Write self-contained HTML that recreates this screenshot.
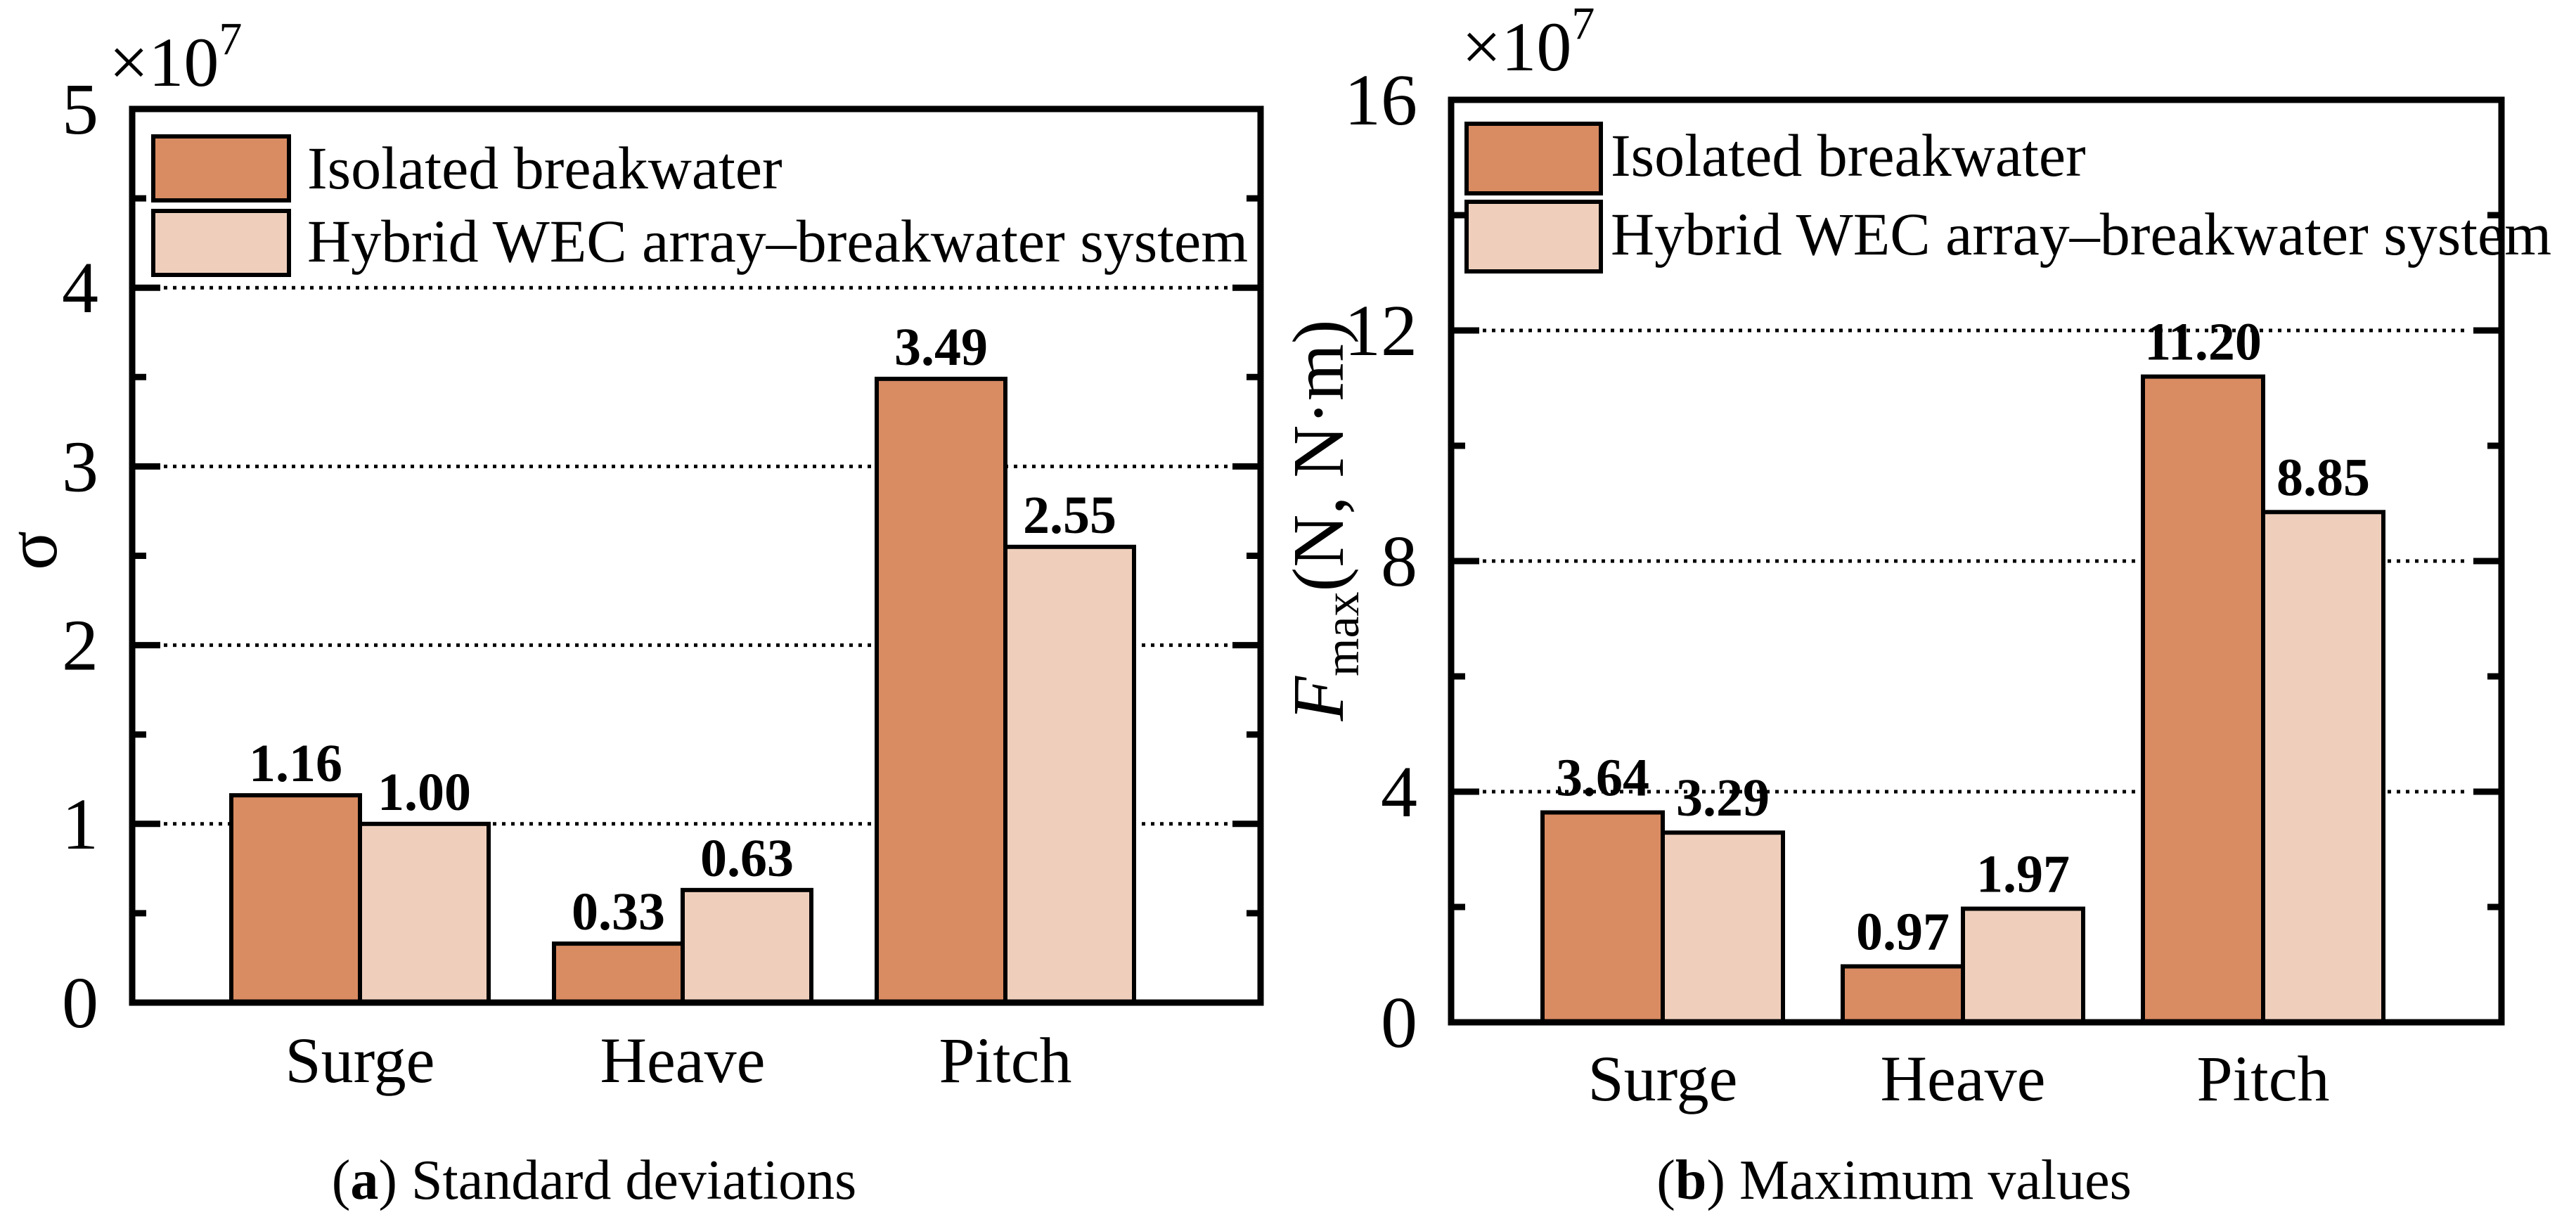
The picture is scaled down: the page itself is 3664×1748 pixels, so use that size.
<!DOCTYPE html>
<html><head><meta charset="utf-8"><style>
html,body{margin:0;padding:0;background:#fff;}
svg{display:block;font-family:"Liberation Serif","Times New Roman",serif;}
</style></head><body>
<svg id="fig" width="3664" height="1748" viewBox="0 0 3664 1748" xmlns="http://www.w3.org/2000/svg"></svg>
<script>
const categories = ["Surge", "Heave", "Pitch"];
const seriesNames = ["Isolated breakwater", "Hybrid WEC array\u2013breakwater system"];
const stdIsolated = [1.16, 0.33, 3.49];
const stdHybrid = [1.00, 0.63, 2.55];
const stdLabelsIso = ["1.16", "0.33", "3.49"];
const stdLabelsHyb = ["1.00", "0.63", "2.55"];
const stdTicks = [0, 1, 2, 3, 4, 5];
const maxIsolated = [3.64, 0.97, 11.20];
const maxHybrid = [3.29, 1.97, 8.85];
const maxLabelsIso = ["3.64", "0.97", "11.20"];
const maxLabelsHyb = ["3.29", "1.97", "8.85"];
const maxTicks = [0, 4, 8, 12, 16];

const NS = "http://www.w3.org/2000/svg";
const svg = document.getElementById("fig");
const COL1 = "#D98B62", COL2 = "#EFCFBC";
function mk(tag, attrs, parent, text) {
  const e = document.createElementNS(NS, tag);
  for (const k in attrs) e.setAttribute(k, attrs[k]);
  if (text !== undefined) e.textContent = text;
  (parent || svg).appendChild(e);
  return e;
}

function panel(cfg) {
  const g = mk("g", {});
  
  
  const L = cfg.left, R = cfg.right, T = cfg.top, B = cfg.bottom;
  const y = v => B - (v - cfg.ymin) / (cfg.ymax - cfg.ymin) * (B - T);
  const x = i => cfg.c0 + i * cfg.spacing;
  cfg.ticks.forEach(t => {
    if (t === cfg.ymin || t === cfg.ymax) return;
    const gl = mk("line", {x1: L + 45, x2: R - 45, y1: y(t), y2: y(t), stroke: "#000", "stroke-width": 5, "stroke-dasharray": "5 8"}, g);
    
    
  });
  const bw = cfg.bw;
  categories.forEach((c, i) => {
    const v1 = cfg.s1[i], v2 = cfg.s2[i];
    const b1 = mk("rect", {x: x(i) - bw, y: y(v1), width: bw, height: B - y(v1), fill: COL1, stroke: "#000", "stroke-width": 6}, g);
    
    
    const b2 = mk("rect", {x: x(i), y: y(v2), width: bw, height: B - y(v2), fill: COL2, stroke: "#000", "stroke-width": 6}, g);
    
    
    const t1 = mk("text", {x: x(i) - bw / 2, y: y(v1) - cfg.lblGap, "text-anchor": "middle", "font-size": 76, "font-weight": "bold"}, g, cfg.l1[i]);
    
    
    const t2 = mk("text", {x: x(i) + bw / 2, y: y(v2) - cfg.lblGap, "text-anchor": "middle", "font-size": 76, "font-weight": "bold"}, g, cfg.l2[i]);
    
    
    const cl = mk("text", {x: x(i), y: cfg.catY, "text-anchor": "middle", "font-size": 92}, g, c);
    
    
  });
  cfg.ticks.forEach((t, k) => {
    const tl = mk("text", {x: L - 48, y: y(t) + 35, "text-anchor": "end", "font-size": 104}, g, String(t));
    
    
    if (t !== cfg.ymin && t !== cfg.ymax) {
      mk("line", {x1: L, x2: L + 40, y1: y(t), y2: y(t), stroke: "#000", "stroke-width": 9}, g);
      mk("line", {x1: R, x2: R - 40, y1: y(t), y2: y(t), stroke: "#000", "stroke-width": 9}, g);
    }
    if (k < cfg.ticks.length - 1) {
      const m = (t + cfg.ticks[k + 1]) / 2;
      mk("line", {x1: L, x2: L + 20, y1: y(m), y2: y(m), stroke: "#000", "stroke-width": 9}, g);
      mk("line", {x1: R, x2: R - 20, y1: y(m), y2: y(m), stroke: "#000", "stroke-width": 9}, g);
    }
  });
  const frame = mk("rect", {x: L, y: T, width: R - L, height: B - T, fill: "none", stroke: "#000", "stroke-width": 9}, g);
  
  
  const ex = mk("text", {x: cfg.expX, y: cfg.expY, "font-size": 100}, g, "\u00d710");
  
  
  mk("tspan", {dy: -45, "font-size": 66}, ex, "7");
  const lg = mk("g", {}, g);
  
  
  [[COL1, 0], [COL2, 1]].forEach(([col, j]) => {
    const sw = mk("rect", {x: cfg.legX, y: cfg.legY[j], width: cfg.legW, height: cfg.legH, fill: col, stroke: "#000", "stroke-width": 6}, lg);
    
    
    const lt = mk("text", {x: cfg.legTX, y: cfg.legBase[j], "font-size": 86}, lg, seriesNames[j]);
    
    
  });
  const cap = mk("text", {x: cfg.capX, y: 1705, "text-anchor": "middle", "font-size": 80}, g);
  
  
  mk("tspan", {}, cap, "(");
  mk("tspan", {"font-weight": "bold"}, cap, cfg.capLetter);
  mk("tspan", {}, cap, ") " + cfg.capText);
  return {g, y, x};
}

const p1 = panel({name: "chart-standard-deviations", left: 188, right: 1793, top: 155, bottom: 1426,
  ymin: 0, ymax: 5, ticks: stdTicks, c0: 512, spacing: 459, bw: 183,
  s1: stdIsolated, s2: stdHybrid, l1: stdLabelsIso, l2: stdLabelsHyb, lblGap: 20, catY: 1539,
  expX: 155, expY: 122, legX: 218, legY: [194, 300], legW: 193, legH: 91, legTX: 437, legBase: [268, 372],
  capX: 845, capLetter: "a", capText: "Standard deviations"});
const yl1 = mk("text", {x: 0, y: 0, "text-anchor": "middle", "font-size": 104, transform: "translate(80,783) rotate(-90)"}, p1.g, "\u03c3");



const p2 = panel({name: "chart-maximum-values", left: 2064, right: 3558, top: 142, bottom: 1454,
  ymin: 0, ymax: 16, ticks: maxTicks, c0: 2365, spacing: 427, bw: 171,
  s1: maxIsolated, s2: maxHybrid, l1: maxLabelsIso, l2: maxLabelsHyb, lblGap: 24, catY: 1565,
  expX: 2079, expY: 100, legX: 2086, legY: [176, 287], legW: 191, legH: 99, legTX: 2291, legBase: [250, 362],
  capX: 2694, capLetter: "b", capText: "Maximum values"});
const yl2 = mk("text", {x: 0, y: 0, "text-anchor": "middle", "font-size": 104, transform: "translate(1910,740) rotate(-90)"}, p2.g);


mk("tspan", {"font-style": "italic"}, yl2, "F");
mk("tspan", {"font-size": 70, dy: 22}, yl2, "max");
mk("tspan", {dy: -22}, yl2, "(N, N\u00b7m)");
</script>
</body></html>
